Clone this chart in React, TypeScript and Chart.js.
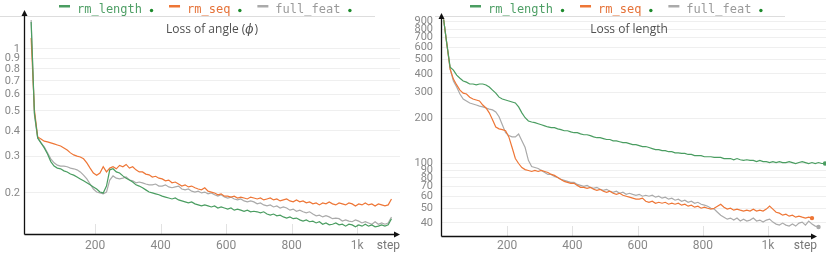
import React, { useEffect, useRef } from 'react';
import { Chart, registerables } from 'chart.js';

Chart.register(...registerables);
Chart.defaults.font.family = 'Roboto';

// ---------- data ----------
const SERIES_NAMES = ['rm_length', 'rm_seq', 'full_feat'];
const LINE_COLORS = ['#4a9d61', '#ee7636', '#aaaaaa'];
const LEGEND_TEXT_COLORS = ['#4f9f66', '#e5733a', '#9a9a9a'];

const FIRST_STEP = 5;
const STEP_INTERVAL = 10;

const X_TICKS = [200, 400, 600, 800, 1000];
const ANGLE_Y_TICKS = [1, 0.9, 0.8, 0.7, 0.6, 0.5, 0.4, 0.3, 0.2];
const LENGTH_Y_TICKS = [900, 800, 700, 600, 500, 400, 300, 200, 100, 90, 80, 70, 60, 50, 40];

// Loss of angle (phi)
const ANGLE_RM_LENGTH = [
  1.352, 0.489, 0.370, 0.350, 0.331, 0.309, 0.284, 0.270, 0.264, 0.262,
  0.256, 0.253, 0.247, 0.244, 0.239, 0.234, 0.229, 0.224, 0.219, 0.214,
  0.209, 0.202, 0.200, 0.216, 0.259, 0.262, 0.253, 0.250, 0.242, 0.236,
  0.231, 0.226, 0.219, 0.216, 0.212, 0.207, 0.202, 0.200, 0.198, 0.196,
  0.193, 0.191, 0.189, 0.187, 0.189, 0.185, 0.183, 0.181, 0.179, 0.181,
  0.177, 0.175, 0.173, 0.175, 0.173, 0.171, 0.173, 0.169, 0.171, 0.169,
  0.167, 0.169, 0.165, 0.167, 0.165, 0.163, 0.165, 0.162, 0.163, 0.162,
  0.160, 0.162, 0.158, 0.156, 0.158, 0.155, 0.156, 0.153, 0.151, 0.153,
  0.150, 0.151, 0.148, 0.146, 0.148, 0.145, 0.146, 0.143, 0.145, 0.141,
  0.143, 0.140, 0.141, 0.143, 0.140, 0.141, 0.138, 0.141, 0.140, 0.137,
  0.140, 0.138, 0.141, 0.138, 0.140, 0.137, 0.138, 0.140, 0.138, 0.140,
  0.150,
];
const ANGLE_RM_SEQ = [
  1.130, 0.506, 0.374, 0.366, 0.357, 0.354, 0.350, 0.346, 0.342, 0.338,
  0.331, 0.323, 0.313, 0.306, 0.302, 0.299, 0.293, 0.280, 0.264, 0.250,
  0.244, 0.250, 0.268, 0.253, 0.264, 0.268, 0.262, 0.272, 0.268, 0.275,
  0.264, 0.268, 0.259, 0.253, 0.253, 0.247, 0.245, 0.239, 0.241, 0.236,
  0.234, 0.229, 0.231, 0.224, 0.226, 0.221, 0.216, 0.219, 0.214, 0.216,
  0.212, 0.209, 0.207, 0.212, 0.204, 0.202, 0.200, 0.196, 0.198, 0.193,
  0.193, 0.191, 0.193, 0.189, 0.191, 0.189, 0.187, 0.191, 0.189, 0.187,
  0.189, 0.185, 0.187, 0.189, 0.185, 0.187, 0.183, 0.185, 0.187, 0.183,
  0.181, 0.185, 0.181, 0.183, 0.179, 0.181, 0.177, 0.179, 0.175, 0.179,
  0.177, 0.181, 0.177, 0.175, 0.179, 0.177, 0.175, 0.179, 0.177, 0.173,
  0.177, 0.175, 0.179, 0.175, 0.177, 0.173, 0.177, 0.175, 0.173, 0.175,
  0.187,
];
const ANGLE_FULL_FEAT = [
  1.383, 0.478, 0.370, 0.350, 0.335, 0.313, 0.293, 0.280, 0.273, 0.270,
  0.270, 0.268, 0.264, 0.262, 0.259, 0.253, 0.244, 0.234, 0.221, 0.209,
  0.202, 0.200, 0.198, 0.202, 0.231, 0.242, 0.236, 0.234, 0.236, 0.239,
  0.231, 0.229, 0.224, 0.226, 0.224, 0.221, 0.219, 0.219, 0.221, 0.216,
  0.216, 0.219, 0.214, 0.212, 0.214, 0.216, 0.209, 0.207, 0.209, 0.204,
  0.202, 0.204, 0.200, 0.202, 0.198, 0.200, 0.196, 0.193, 0.196, 0.191,
  0.189, 0.191, 0.187, 0.185, 0.187, 0.183, 0.181, 0.183, 0.181, 0.177,
  0.179, 0.175, 0.173, 0.175, 0.171, 0.173, 0.169, 0.171, 0.169, 0.165,
  0.167, 0.163, 0.165, 0.162, 0.160, 0.162, 0.158, 0.155, 0.156, 0.153,
  0.155, 0.153, 0.150, 0.151, 0.150, 0.146, 0.148, 0.146, 0.145, 0.148,
  0.146, 0.143, 0.145, 0.143, 0.141, 0.145, 0.141, 0.143, 0.141, 0.143,
  0.153,
];

// Loss of length
const LENGTH_RM_LENGTH = [
  927, 631, 443, 424, 392, 374, 358, 352, 342, 342,
  337, 342, 342, 337, 326, 311, 297, 279, 271, 267,
  263, 259, 255, 240, 219, 203, 193, 190, 188, 185,
  182, 179, 176, 174, 174, 171, 169, 166, 166, 163,
  161, 161, 158, 156, 156, 154, 151, 149, 149, 147,
  145, 145, 142, 142, 140, 138, 138, 136, 134, 134,
  132, 130, 130, 128, 126, 124, 124, 122, 122, 120,
  120, 118, 118, 117, 117, 115, 115, 113, 113, 113,
  111, 111, 111, 110, 110, 110, 108, 108, 108, 106,
  108, 106, 105, 106, 105, 105, 103, 105, 103, 103,
  101.5, 103, 101.5, 103, 101.5, 101.5, 103, 101.5, 100, 101.5,
  103, 101.5, 100, 101.5, 100, 101.5, 100, 100,
];
const LENGTH_RM_SEQ = [
  927, 631, 430, 369, 337, 311, 297, 293, 279, 271,
  267, 263, 247, 236, 219, 197, 176, 171, 169, 166,
  151, 128, 108, 100, 94, 91, 89.8, 88.4, 89.8, 88.4,
  89.8, 88.4, 87.1, 84.5, 83.2, 80.6, 78.2, 75.8, 74.7, 73.6,
  73.6, 71.3, 69.2, 69.2, 68.1, 69.2, 67.1, 66.1, 67.1, 65.1,
  64.1, 65.1, 63.1, 62.1, 63.1, 61.2, 60.3, 59.4, 58.5, 57.6,
  57.6, 58.5, 55.8, 54.9, 55.8, 54.1, 54.9, 54.1, 54.9, 53.3,
  54.1, 53.3, 54.1, 52.5, 53.3, 51.7, 52.5, 50.9, 51.7, 50.1,
  50.9, 50.1, 49.4, 50.1, 51.7, 53.3, 50.9, 49.4, 50.1, 48.6,
  49.4, 48.6, 47.9, 48.6, 47.9, 49.4, 47.9, 48.6, 47.9, 49.4,
  51.7, 49.4, 47.1, 46.4, 45.0, 45.7, 44.3, 45.0, 43.6, 44.3,
  43.6, 43.0, 43.6, 43.0,
];
const LENGTH_FULL_FEAT = [
  927, 631, 430, 358, 326, 293, 271, 263, 255, 251,
  247, 243, 240, 236, 232, 229, 222, 206, 182, 161,
  154, 151, 151, 158, 142, 128, 105, 95.5, 94, 92.6,
  89.8, 87.1, 84.5, 84.5, 81.9, 80.6, 78.2, 77.0, 75.8, 74.7,
  74.7, 72.4, 71.3, 70.2, 71.3, 69.2, 68.1, 69.2, 67.1, 66.1,
  67.1, 65.1, 64.1, 65.1, 63.1, 64.1, 62.1, 63.1, 62.1, 61.2,
  62.1, 60.3, 61.2, 60.3, 61.2, 59.4, 60.3, 58.5, 59.4, 57.6,
  58.5, 56.7, 57.6, 55.8, 56.7, 54.9, 55.8, 54.1, 54.9, 53.3,
  52.5, 51.7, 50.1, 49.4, 47.1, 45.0, 43.6, 42.3, 43.0, 41.7,
  43.0, 41.1, 42.3, 41.1, 41.7, 43.0, 41.1, 41.7, 40.4, 41.7,
  42.3, 40.4, 39.2, 38.6, 39.8, 38.6, 38.0, 39.2, 38.0, 39.8,
  40.4, 38.6, 41.1, 39.2, 38.0, 37.5,
];

// ---------- panels ----------
type Panel = {
  titleMain: string;
  titleItalic: string;
  titleEnd: string;
  series: number[][];
  yTicks: number[];
  yMin: number;
  yMax: number;
  xMin: number;
  xMax: number;
  yAxisWidth: number;
  yPad: number;
  padTop: number;
  padRight: number;
  xAxisHeight: number;
  xPad: number;
  arrowX: number;
  arrowTop: number;
  legendX: number;
  sep: [number, number];
  endDots: boolean;
};

const PANELS: Panel[] = [
  {
    titleMain: 'Loss of angle (',
    titleItalic: 'ϕ',
    titleEnd: ')',
    series: [ANGLE_RM_LENGTH, ANGLE_RM_SEQ, ANGLE_FULL_FEAT],
    yTicks: ANGLE_Y_TICKS,
    yMin: 0.1264,
    yMax: 1.512,
    xMin: -16.8,
    xMax: 1131,
    yAxisWidth: 24,
    yPad: 4,
    padTop: 12,
    padRight: 15,
    xAxisHeight: 22,
    xPad: 5,
    arrowX: 400,
    arrowTop: 10,
    legendX: 59,
    sep: [0, 375],
    endDots: false,
  },
  {
    titleMain: 'Loss of length',
    titleItalic: '',
    titleEnd: '',
    series: [LENGTH_RM_LENGTH, LENGTH_RM_SEQ, LENGTH_FULL_FEAT],
    yTicks: LENGTH_Y_TICKS,
    yMin: 32.6,
    yMax: 1000,
    xMin: -3.1,
    xMax: 1178,
    yAxisWidth: 26,
    yPad: 8,
    padTop: 13,
    padRight: 5,
    xAxisHeight: 20,
    xPad: 3,
    arrowX: 402,
    arrowTop: 13,
    legendX: 55,
    sep: [20, 370],
    endDots: true,
  },
];

function toPoints(values: number[]) {
  return values.map((v, i) => ({ x: FIRST_STEP + i * STEP_INTERVAL, y: v }));
}

function decorPlugin(p: Panel) {
  return {
    id: 'decor',
    beforeDatasetsDraw(chart: any) {
      const { ctx, chartArea } = chart;
      const xs = chart.scales.x;
      ctx.save();
      ctx.strokeStyle = '#e2e2e2';
      ctx.lineWidth = 1;
      X_TICKS.forEach((v) => {
        const px = Math.round(xs.getPixelForValue(v)) + 0.5;
        ctx.beginPath();
        ctx.moveTo(px, chartArea.bottom - 10);
        ctx.lineTo(px, chartArea.bottom);
        ctx.stroke();
      });
      ctx.restore();
    },
    afterDraw(chart: any) {
      const { ctx, chartArea } = chart;
      ctx.save();
      // separator under legend
      ctx.strokeStyle = '#dddddd';
      ctx.lineWidth = 1;
      ctx.beginPath();
      ctx.moveTo(p.sep[0], 16.5);
      ctx.lineTo(p.sep[1], 16.5);
      ctx.stroke();

      // legend
      ctx.font = '12px "DejaVu Sans Mono"';
      ctx.textBaseline = 'alphabetic';
      ctx.textAlign = 'left';
      let x = p.legendX;
      SERIES_NAMES.forEach((name, k) => {
        ctx.fillStyle = LINE_COLORS[k];
        ctx.fillRect(x, 5, 11, 2.5);
        ctx.fillStyle = LEGEND_TEXT_COLORS[k];
        ctx.fillText(name, x + 18, 12.5);
        const w = ctx.measureText(name).width;
        const dx = x + 18 + w + 9.5;
        ctx.fillStyle = '#1d8a2c';
        ctx.beginPath();
        ctx.arc(dx, 10.5, 1.7, 0, Math.PI * 2);
        ctx.fill();
        x = dx + 17.5;
      });

      // title
      const cx = (chartArea.left + p.arrowX) / 2;
      ctx.fillStyle = '#505050';
      ctx.textBaseline = 'middle';
      const f1 = '12px "Open Sans"';
      const f2 = 'italic 12px "DejaVu Serif"';
      ctx.font = f1;
      const w1 = ctx.measureText(p.titleMain).width;
      const w3 = ctx.measureText(p.titleEnd).width;
      ctx.font = f2;
      const w2 = p.titleItalic ? ctx.measureText(p.titleItalic).width + 1 : 0;
      let tx = cx - (w1 + w2 + w3) / 2;
      ctx.font = f1;
      ctx.fillText(p.titleMain, tx, 30);
      tx += w1;
      if (p.titleItalic) {
        ctx.font = f2;
        ctx.fillText(p.titleItalic, tx, 30);
        tx += w2;
        ctx.font = f1;
        ctx.fillText(p.titleEnd, tx, 30);
      }

      // axes with arrows
      const ax = chartArea.left + 0.5;
      const ay = chartArea.bottom + 0.5;
      ctx.strokeStyle = '#111';
      ctx.fillStyle = '#111';
      ctx.lineWidth = 1.3;
      ctx.beginPath();
      ctx.moveTo(ax, ay);
      ctx.lineTo(ax, p.arrowTop + 4);
      ctx.moveTo(ax, ay);
      ctx.lineTo(p.arrowX - 4, ay);
      ctx.stroke();
      ctx.beginPath();
      ctx.moveTo(ax, p.arrowTop);
      ctx.lineTo(ax - 3, p.arrowTop + 6);
      ctx.lineTo(ax + 3, p.arrowTop + 6);
      ctx.closePath();
      ctx.fill();
      ctx.beginPath();
      ctx.moveTo(p.arrowX, ay);
      ctx.lineTo(p.arrowX - 6, ay - 3);
      ctx.lineTo(p.arrowX - 6, ay + 3);
      ctx.closePath();
      ctx.fill();

      // axis name
      ctx.font = '12px Roboto';
      ctx.fillStyle = '#777';
      ctx.textAlign = 'right';
      ctx.textBaseline = 'middle';
      ctx.fillText('step', p.arrowX, 245.5);
      ctx.restore();
    },
  };
}

function makeConfig(p: Panel): any {
  return {
    type: 'line',
    data: {
      datasets: p.series.map((s, k) => ({
        label: SERIES_NAMES[k],
        data: toPoints(s),
        borderColor: LINE_COLORS[k],
        backgroundColor: LINE_COLORS[k],
        pointBackgroundColor: LINE_COLORS[k],
        pointBorderWidth: 0,
        borderWidth: 1.2,
        pointRadius: (c: any) => (p.endDots && c.dataIndex === s.length - 1 ? 2.2 : 0),
        pointHoverRadius: 0,
        tension: 0,
        fill: false,
      })),
    },
    options: {
      responsive: false,
      animation: false,
      events: [],
      layout: { padding: { top: p.padTop, right: p.padRight, left: 0, bottom: 0 } },
      plugins: {
        legend: { display: false },
        tooltip: { enabled: false },
        title: { display: false },
      },
      scales: {
        x: {
          type: 'linear',
          min: p.xMin,
          max: p.xMax,
          afterBuildTicks: (s: any) => {
            s.ticks = X_TICKS.map((v) => ({ value: v }));
          },
          afterFit: (s: any) => {
            s.height = p.xAxisHeight;
          },
          grid: { display: false, drawTicks: false },
          border: { display: false },
          ticks: {
            autoSkip: false,
            maxRotation: 0,
            padding: p.xPad,
            color: '#888',
            font: { size: 12, family: 'Roboto' },
            callback: (v: number) => (v === 1000 ? '1k' : String(v)),
          },
        },
        y: {
          type: 'logarithmic',
          min: p.yMin,
          max: p.yMax,
          afterBuildTicks: (s: any) => {
            s.ticks = p.yTicks.map((v) => ({ value: v }));
          },
          afterFit: (s: any) => {
            s.width = p.yAxisWidth;
          },
          grid: { color: '#efefef', drawTicks: false, lineWidth: 1 },
          border: { display: false },
          ticks: {
            autoSkip: false,
            padding: p.yPad,
            color: '#888',
            font: { size: 11, family: 'Roboto' },
            callback: (v: number) => String(v),
          },
        },
      },
    },
    plugins: [decorPlugin(p)],
  };
}

export default function App() {
  const leftRef = useRef<HTMLCanvasElement | null>(null);
  const rightRef = useRef<HTMLCanvasElement | null>(null);

  useEffect(() => {
    document.body.style.margin = '0';
    const charts: Chart[] = [];
    if (leftRef.current) charts.push(new Chart(leftRef.current, makeConfig(PANELS[0])));
    if (rightRef.current) charts.push(new Chart(rightRef.current, makeConfig(PANELS[1])));
    return () => charts.forEach((c) => c.destroy());
  }, []);

  return (
    <div style={{ position: 'relative', width: 831, height: 256, overflow: 'hidden', background: '#fff' }}>
      <canvas ref={leftRef} width={415} height={256} style={{ position: 'absolute', left: 0, top: 0 }} />
      <canvas ref={rightRef} width={416} height={256} style={{ position: 'absolute', left: 415, top: 0 }} />
    </div>
  );
}
